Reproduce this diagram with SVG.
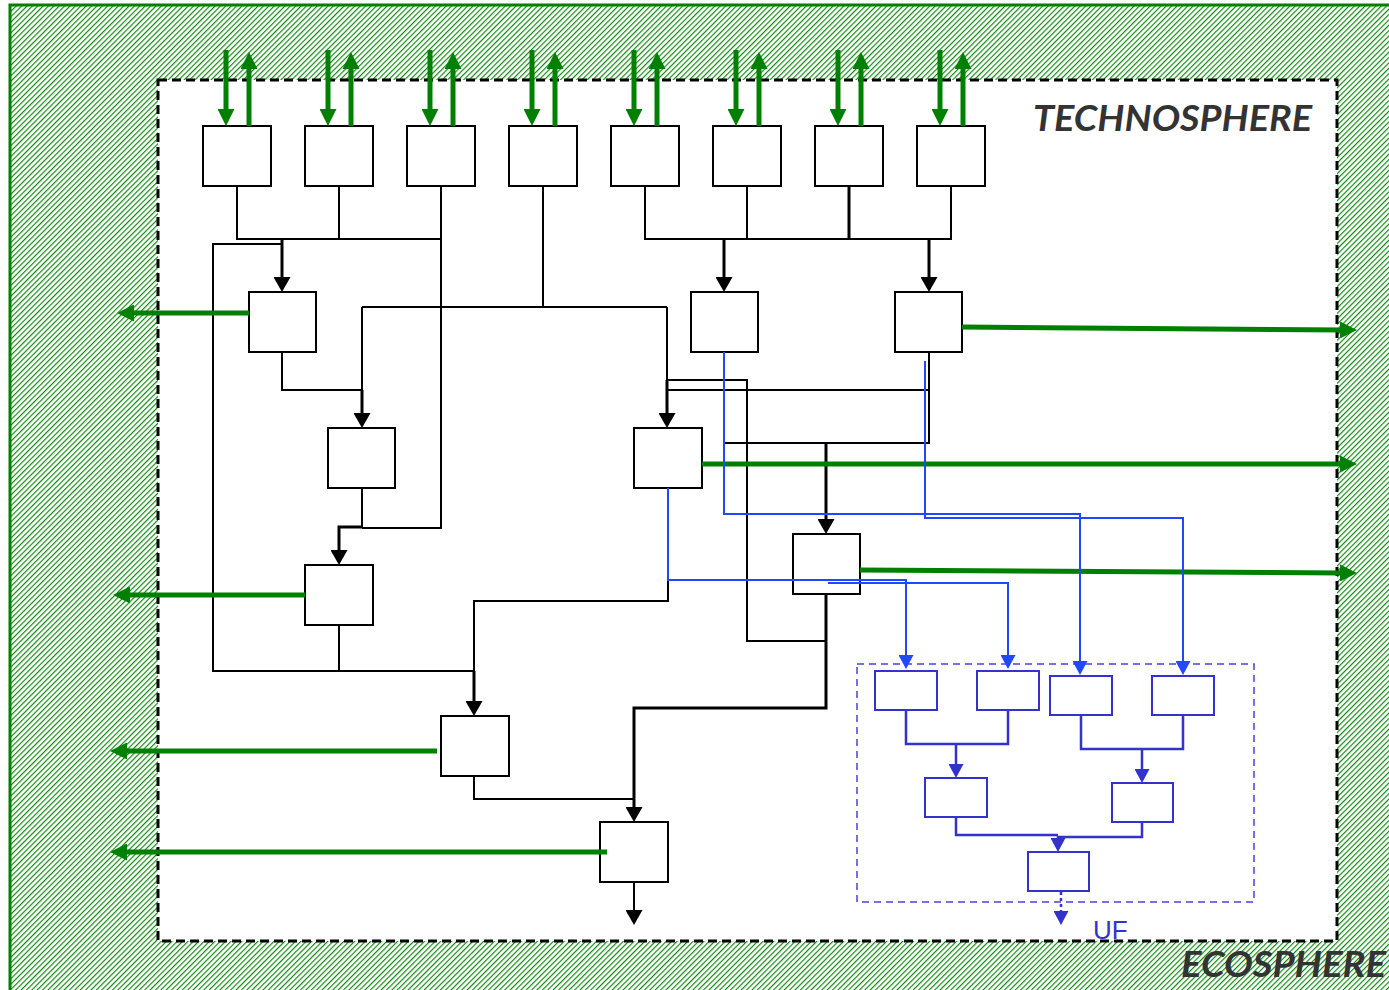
<svg xmlns="http://www.w3.org/2000/svg" width="1389" height="990" viewBox="0 0 1389 990">
<style>
.box{fill:#fff;stroke:#000;stroke-width:2}
.bbox{fill:#fff;stroke:#3333cc;stroke-width:2}
.k{fill:none;stroke:#000;stroke-width:2}
.kt{fill:none;stroke:#000;stroke-width:3}
.g{fill:none;stroke:#008000;stroke-width:5}
.b{fill:none;stroke:#1f48ff;stroke-width:2}
.bi{fill:none;stroke:#3333cc;stroke-width:2.5}
.lbl{font-family:Lato,"Liberation Sans",sans-serif;font-weight:bold;font-style:italic;font-size:36px;fill:#333}
</style>
<defs>
<pattern id="hatch" width="3.8" height="3.8" patternUnits="userSpaceOnUse" patternTransform="rotate(45)">
<line x1="0.6" y1="0" x2="0.6" y2="3.8" stroke="#008000" stroke-width="1.1"/>
</pattern>
<marker id="ag" markerUnits="userSpaceOnUse" viewBox="0 0 17 17" markerWidth="17" markerHeight="17" refX="5" refY="8.5" orient="auto"><path d="M0,0 L17,8.5 L0,17 z" fill="#008000"/></marker>
<marker id="ak" markerUnits="userSpaceOnUse" viewBox="0 0 15 17" markerWidth="15" markerHeight="17" refX="4" refY="8.5" orient="auto"><path d="M0,0 L15,8.5 L0,17 z" fill="#000"/></marker>
<marker id="ab" markerUnits="userSpaceOnUse" viewBox="0 0 14 15" markerWidth="14" markerHeight="15" refX="4" refY="7.5" orient="auto"><path d="M0,0 L14,7.5 L0,15 z" fill="#1f48ff"/></marker>
<marker id="ai" markerUnits="userSpaceOnUse" viewBox="0 0 14 15" markerWidth="14" markerHeight="15" refX="4" refY="7.5" orient="auto"><path d="M0,0 L14,7.5 L0,15 z" fill="#3333cc"/></marker>
</defs>

<g id="ecosphere">
<rect x="10" y="5" width="1390" height="995" fill="#fff"/>
<rect x="10" y="5" width="1390" height="995" fill="url(#hatch)" stroke="#008000" stroke-width="3"/>
<text class="lbl" x="1181" y="977" textLength="205" lengthAdjust="spacingAndGlyphs">ECOSPHERE</text>
</g>
<g id="technosphere">
<rect x="158" y="80" width="1179" height="861" fill="#fff" stroke="#000" stroke-width="3" stroke-dasharray="9 5"/>
<text class="lbl" x="1033" y="131" textLength="279" lengthAdjust="spacingAndGlyphs">TECHNOSPHERE</text>
</g>

<g id="nodes">
<rect id="t1" class="box" x="203" y="126" width="68" height="60"/>
<rect id="t2" class="box" x="305" y="126" width="68" height="60"/>
<rect id="t3" class="box" x="407" y="126" width="68" height="60"/>
<rect id="t4" class="box" x="509" y="126" width="68" height="60"/>
<rect id="t5" class="box" x="611" y="126" width="68" height="60"/>
<rect id="t6" class="box" x="713" y="126" width="68" height="60"/>
<rect id="t7" class="box" x="815" y="126" width="68" height="60"/>
<rect id="t8" class="box" x="917" y="126" width="68" height="60"/>
<rect id="nA" class="box" x="249" y="292" width="67" height="60"/>
<rect id="nB" class="box" x="691" y="292" width="67" height="60"/>
<rect id="nC" class="box" x="895" y="292" width="67" height="60"/>
<rect id="nD" class="box" x="328" y="428" width="67" height="60"/>
<rect id="nE" class="box" x="634" y="428" width="68" height="60"/>
<rect id="nF" class="box" x="305" y="565" width="68" height="60"/>
<rect id="nG" class="box" x="793" y="534" width="67" height="60"/>
<rect id="nH" class="box" x="441" y="716" width="68" height="60"/>
<rect id="nI" class="box" x="600" y="822" width="68" height="60"/>
<g id="uf-group">
<rect x="857" y="664" width="397" height="238" fill="none" stroke="#4444dd" stroke-width="1.5" stroke-dasharray="7 5"/>
<rect id="u1" class="bbox" x="875" y="671" width="62" height="39"/>
<rect id="u2" class="bbox" x="977" y="671" width="62" height="39"/>
<rect id="u3" class="bbox" x="1050" y="676" width="62" height="39"/>
<rect id="u4" class="bbox" x="1152" y="676" width="62" height="39"/>
<rect id="u5" class="bbox" x="925" y="778" width="62" height="39"/>
<rect id="u6" class="bbox" x="1112" y="783" width="61" height="39"/>
<rect id="u7" class="bbox" x="1028" y="852" width="61" height="39"/>
<text x="1093" y="939" font-family="Liberation Sans, Arial, sans-serif" font-size="26" fill="#3333cc">UF</text>
</g>
</g>

<g id="connectors">
<!-- top green exchanges -->
<path class="g" marker-end="url(#ag)" d="M226,50 V114"/>
<path class="g" marker-end="url(#ag)" d="M328,50 V114"/>
<path class="g" marker-end="url(#ag)" d="M430,50 V114"/>
<path class="g" marker-end="url(#ag)" d="M532,50 V114"/>
<path class="g" marker-end="url(#ag)" d="M634,50 V114"/>
<path class="g" marker-end="url(#ag)" d="M736,50 V114"/>
<path class="g" marker-end="url(#ag)" d="M838,50 V114"/>
<path class="g" marker-end="url(#ag)" d="M940,50 V114"/>
<path class="g" marker-end="url(#ag)" d="M249,126 V64"/>
<path class="g" marker-end="url(#ag)" d="M351,126 V64"/>
<path class="g" marker-end="url(#ag)" d="M453,126 V64"/>
<path class="g" marker-end="url(#ag)" d="M555,126 V64"/>
<path class="g" marker-end="url(#ag)" d="M657,126 V64"/>
<path class="g" marker-end="url(#ag)" d="M759,126 V64"/>
<path class="g" marker-end="url(#ag)" d="M861,126 V64"/>
<path class="g" marker-end="url(#ag)" d="M963,126 V64"/>

<!-- black flows -->
<path class="k" d="M237,186 V239 H441 M339,186 V239 M441,186 V528 H362 M362,488 V528"/>
<path class="kt" marker-end="url(#ak)" d="M282,239 V281"/>
<path class="k" d="M282,244 H213 V671 H339 V625 M339,671 H474"/>
<path class="kt" marker-end="url(#ak)" d="M362,527 H339 V554"/>
<path class="k" d="M543,186 V307 M362,307 H667 M362,307 V390 M282,352 V390 H362"/>
<path class="kt" marker-end="url(#ak)" d="M362,390 V417"/>
<path class="k" d="M667,307 V380 M667,380 H747 V641 H826 M667,390 H929"/>
<path class="kt" marker-end="url(#ak)" d="M667,380 V417"/>
<path class="k" d="M929,352 V443 H724 M724,352 V443"/>
<path class="kt" marker-end="url(#ak)" d="M826,443 V523"/>
<path class="k" d="M645,186 V239 H951 V186 M747,186 V239"/>
<path class="kt" d="M849,186 V239"/>
<path class="kt" marker-end="url(#ak)" d="M724,239 V281"/>
<path class="kt" marker-end="url(#ak)" d="M929,239 V281"/>
<path class="k" d="M668,488 V601 H474 V671"/>
<path class="kt" marker-end="url(#ak)" d="M474,671 V705"/>
<path class="k" d="M474,776 V799 H634"/>
<path class="kt" marker-end="url(#ak)" d="M826,594 V708 H634 V811"/>
<path class="k" marker-end="url(#ak)" d="M634,882 V914"/>

<!-- green outputs -->
<path class="g" marker-end="url(#ag)" d="M249,313 H129"/>
<path class="g" marker-end="url(#ag)" d="M305,595 H125"/>
<path class="g" marker-end="url(#ag)" d="M437,751 H122"/>
<path class="g" marker-end="url(#ag)" d="M607,852 H122"/>
<path class="g" marker-end="url(#ag)" d="M962,327 L1345,330"/>
<path class="g" marker-end="url(#ag)" d="M702,464 H1345"/>
<path class="g" marker-end="url(#ag)" d="M860,570 L1345,573"/>

<!-- blue flows -->
<path class="b" marker-end="url(#ab)" d="M724,352 V514 H1080 V665"/>
<path class="b" marker-end="url(#ab)" d="M925,361 V518 H1183 V665"/>
<path class="b" marker-end="url(#ab)" d="M668,488 V580 H906 V659"/>
<path class="b" marker-end="url(#ab)" d="M828,583 H1008 V659"/>

<!-- inner UF flows -->
<path class="bi" d="M906,710 V744 H1008 V710 M1081,715 V749 H1183 V715 M956,817 V835 H1058 M1142,822 V837 H1058"/>
<path class="bi" marker-end="url(#ai)" d="M956,744 V768"/>
<path class="bi" marker-end="url(#ai)" d="M1142,749 V773"/>
<path class="bi" marker-end="url(#ai)" d="M1058,836 V842"/>
<path class="bi" stroke-dasharray="3 3" marker-end="url(#ai)" d="M1061,892 V915"/>
</g>
</svg>
